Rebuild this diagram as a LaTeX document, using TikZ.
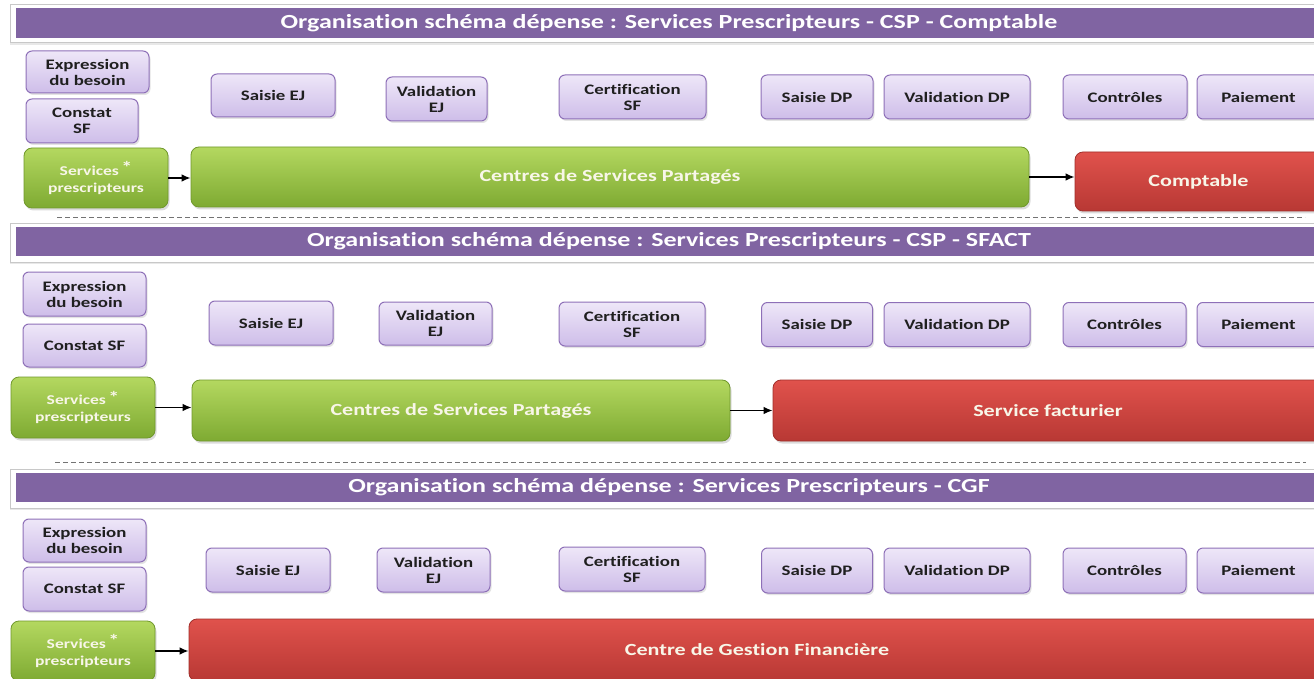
\documentclass[tikz,border=0pt]{standalone}
\usepackage{fontspec}
\setmainfont{Carlito}[FakeStretch=1.3,Ligatures=NoCommon]
\usetikzlibrary{arrows.meta,shadows}
\definecolor{barpurple}{RGB}{128,100,162}
\definecolor{lavtop}{RGB}{238,231,248}
\definecolor{lavbot}{RGB}{206,189,233}
\definecolor{lavline}{RGB}{142,112,184}
\definecolor{grtop}{RGB}{180,216,96}
\definecolor{grbot}{RGB}{126,170,50}
\definecolor{grline}{RGB}{112,152,44}
\definecolor{rdtop}{RGB}{224,82,76}
\definecolor{rdbot}{RGB}{184,56,52}
\definecolor{rdline}{RGB}{160,46,42}
\definecolor{lighttext}{RGB}{248,246,232}
\definecolor{framegray}{RGB}{200,200,200}
\newcommand\boxfont{\bfseries\fontsize{14.5}{16}\selectfont}
\newcommand\bigfont{\bfseries\fontsize{17}{19}\selectfont}
\newcommand\spfont{\bfseries\fontsize{13.5}{17}\selectfont}
\newcommand\titlefont{\bfseries\fontsize{20}{22}\selectfont}
\newcommand\spstar{\,\raisebox{1.5pt}{\fontsize{17}{17}\selectfont*}}
\begin{document}
\begin{tikzpicture}[x=1pt,y=-1pt,
  lbox/.style={draw=lavline, line width=1pt, rounded corners=6pt, top color=lavtop, bottom color=lavbot,
    font=\boxfont, text=black!88, align=center, inner sep=0pt,
    drop shadow={opacity=0.22, shadow xshift=1.5pt, shadow yshift=-2pt}},
  gbox/.style={draw=grline, line width=0.8pt, rounded corners=8pt, top color=grtop, bottom color=grbot,
    font=\bigfont, text=lighttext, align=center, inner sep=0pt,
    drop shadow={opacity=0.28, shadow xshift=1.5pt, shadow yshift=-2.5pt}},
  rbox/.style={draw=rdline, line width=0.8pt, rounded corners=8pt, top color=rdtop, bottom color=rdbot,
    font=\bigfont, text=lighttext, align=center, inner sep=0pt,
    drop shadow={opacity=0.28, shadow xshift=1.5pt, shadow yshift=-2.5pt}},
  spbox/.style={gbox, font=\spfont},
  tframe/.style={draw=framegray, line width=1pt, fill=white, inner sep=0pt,
    drop shadow={opacity=0.18, shadow xshift=0pt, shadow yshift=-2pt}},
  tbar/.style={fill=barpurple, inner sep=0pt, font=\titlefont, text=white},
  arr/.style={-{Latex[length=9pt,width=7.5pt]}, line width=1.4pt, black},
  sepline/.style={dash pattern=on 5pt off 3pt, line width=0.9pt, black!55}
]
\useasboundingbox (0,0) rectangle (1314,679);
\fill[white] (0,0) rectangle (1314,679);

% ---------------- Section 1 ----------------
\node[tframe, minimum width=1320pt, minimum height=38pt] (f1) at (670,24) {};
\node[tbar, minimum width=1306pt, minimum height=30pt] (t1) at (669,23)
  {Organisation schéma dépense : Services Prescripteurs - CSP - Comptable};

\node[lbox, minimum width=123pt, minimum height=42pt] (exp1) at (87.5,72) {Expression\\du besoin};
\node[lbox, minimum width=112pt, minimum height=44pt] (con1) at (82,121) {Constat\\SF};
\node[spbox, minimum width=144pt, minimum height=60pt] (sp1) at (96,178) {Services\spstar\\prescripteurs};
\node[gbox, minimum width=838pt, minimum height=60pt] (csp1) at (610,177) {Centres de Services Partagés};
\node[rbox, minimum width=247pt, minimum height=59pt] (cpt1) at (1198.5,181.5) {Comptable};

\node[lbox, minimum width=124pt, minimum height=43pt] (sej1) at (273,95.5) {Saisie EJ};
\node[lbox, minimum width=101pt, minimum height=44pt] (vej1) at (436.5,99) {Validation\\EJ};
\node[lbox, minimum width=147pt, minimum height=44pt] (cer1) at (632.5,97) {Certification\\SF};
\node[lbox, minimum width=112pt, minimum height=44pt] (sdp1) at (817,97) {Saisie DP};
\node[lbox, minimum width=146pt, minimum height=44pt] (vdp1) at (957,97) {Validation DP};
\node[lbox, minimum width=124pt, minimum height=44pt] (ctl1) at (1125,97) {Contrôles};
\node[lbox, minimum width=123pt, minimum height=44pt] (pai1) at (1258.5,97) {Paiement};

\draw[arr] (sp1.east) -- (sp1.east -| csp1.west);
\draw[arr] (csp1.east) -- (csp1.east -| cpt1.west);

\coordinate (d1a) at (57,217);
\coordinate (d1b) at (1305,217);
\draw[sepline] (d1a) -- (d1b);

% ---------------- Section 2 ----------------
\node[tframe, minimum width=1320pt, minimum height=39pt] (f2) at (670,242.5) {};
\node[tbar, minimum width=1306pt, minimum height=29pt] (t2) at (669,241.5)
  {Organisation schéma dépense : Services Prescripteurs - CSP - SFACT};

\node[lbox, minimum width=123pt, minimum height=44pt] (exp2) at (84.5,294) {Expression\\du besoin};
\node[lbox, minimum width=123pt, minimum height=43pt] (con2) at (84.5,345.5) {Constat SF};
\node[spbox, minimum width=144pt, minimum height=61pt] (sp2) at (83,407.5) {Services\spstar\\prescripteurs};
\node[gbox, minimum width=538pt, minimum height=61pt] (csp2) at (461,410.5) {Centres de Services Partagés};
\node[rbox, minimum width=550pt, minimum height=61pt] (sf2) at (1048,410.5) {Service facturier};

\node[lbox, minimum width=124pt, minimum height=44pt] (sej2) at (271,323) {Saisie EJ};
\node[lbox, minimum width=113pt, minimum height=43pt] (vej2) at (435.5,323.5) {Validation\\EJ};
\node[lbox, minimum width=146pt, minimum height=44pt] (cer2) at (632,324) {Certification\\SF};
\node[lbox, minimum width=111pt, minimum height=44pt] (sdp2) at (817,324.5) {Saisie DP};
\node[lbox, minimum width=146pt, minimum height=44pt] (vdp2) at (957,324.5) {Validation DP};
\node[lbox, minimum width=123pt, minimum height=44pt] (ctl2) at (1124.5,324.5) {Contrôles};
\node[lbox, minimum width=123pt, minimum height=44pt] (pai2) at (1258.5,324.5) {Paiement};

\draw[arr] (sp2.east) -- (sp2.east -| csp2.west);
\draw[arr] (csp2.east) -- (csp2.east -| sf2.west);

\coordinate (d2a) at (55,462);
\coordinate (d2b) at (1306,462);
\draw[sepline] (d2a) -- (d2b);

% ---------------- Section 3 ----------------
\node[tframe, minimum width=1320pt, minimum height=39pt] (f3) at (670,488.5) {};
\node[tbar, minimum width=1306pt, minimum height=29pt] (t3) at (669,487.5)
  {Organisation schéma dépense : Services Prescripteurs - CGF};

\node[lbox, minimum width=123pt, minimum height=43pt] (exp3) at (84.5,540.5) {Expression\\du besoin};
\node[lbox, minimum width=123pt, minimum height=44pt] (con3) at (84.5,589) {Constat SF};
\node[spbox, minimum width=144pt, minimum height=60pt] (sp3) at (83,651) {Services\spstar\\prescripteurs};
\node[rbox, minimum width=1136pt, minimum height=62pt] (cgf3) at (757,650) {Centre de Gestion Financière};

\node[lbox, minimum width=124pt, minimum height=44pt] (sej3) at (268,570) {Saisie EJ};
\node[lbox, minimum width=113pt, minimum height=44pt] (vej3) at (433.5,570) {Validation\\EJ};
\node[lbox, minimum width=146pt, minimum height=44pt] (cer3) at (632,569) {Certification\\SF};
\node[lbox, minimum width=111pt, minimum height=45pt] (sdp3) at (817,570.5) {Saisie DP};
\node[lbox, minimum width=146pt, minimum height=45pt] (vdp3) at (957,570.5) {Validation DP};
\node[lbox, minimum width=123pt, minimum height=45pt] (ctl3) at (1124.5,570.5) {Contrôles};
\node[lbox, minimum width=123pt, minimum height=45pt] (pai3) at (1258.5,570.5) {Paiement};

\draw[arr] (sp3.east) -- (sp3.east -| cgf3.west);
\end{tikzpicture}
\end{document}
